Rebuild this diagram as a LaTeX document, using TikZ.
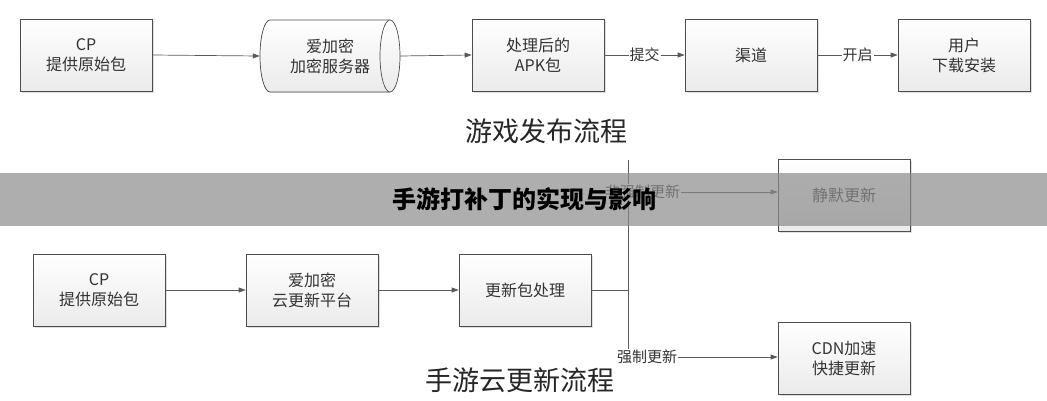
\documentclass[tikz,border=0pt]{standalone}
\usepackage{fontspec}
\setmainfont{Noto Sans CJK SC}
\usetikzlibrary{arrows.meta,shadows}
\begin{document}
\begin{tikzpicture}[x=1pt,y=-1pt,
  box/.style={draw=black!70,line width=0.7pt,top color=white,bottom color=black!8,minimum width=132pt,minimum height=72pt,align=center,font=\fontsize{16}{20}\selectfont,text=black!80,drop shadow={shadow xshift=1.5pt,shadow yshift=-1.5pt,opacity=0.25}},
  arr/.style={draw=black!65,line width=0.7pt,-{Triangle[length=7pt,width=5pt]}},
  lbl/.style={font=\fontsize{15}{18}\selectfont,text=black!80,fill=white,inner sep=1pt},
  ttl/.style={font=\fontsize{27}{32}\selectfont,text=black!85}]
\useasboundingbox (0,0) rectangle (1047,400);
% top row
\node[box] (cp1) at (86,55) {CP\\提供原始包};
\node[box] (apk) at (538,55) {处理后的\\APK包};
\node[box] (qd) at (751,55) {渠道};
\node[box] (user) at (964,55) {用户\\下载安装};
% cylinder
\fill[top color=white,bottom color=black!8] (270,20) -- (390,20) -- (390,92) -- (270,92) arc[start angle=90,end angle=270,x radius=10,y radius=36] -- cycle;
\draw[black!70,line width=0.7pt] (270,20) -- (390,20) (270,92) -- (390,92)
  (270,92) arc[start angle=90,end angle=270,x radius=10,y radius=36];
\draw[black!70,line width=0.7pt,top color=white,bottom color=black!8] (390,56) ellipse[x radius=10,y radius=36];
\node[minimum width=140pt,minimum height=72pt,align=center,font=\fontsize{16}{20}\selectfont,text=black!80] (enc) at (330,56) {爱加密\\加密服务器};
\node[inner sep=0pt] (encr) at (400,56) {};
\draw[arr] (cp1.east) -- (enc.west);
\draw[arr] (encr.center) -- (apk.west);
\draw[arr] (apk.east) -- node[lbl]{提交} (qd.west);
\draw[arr] (qd.east) -- node[lbl]{开启} (user.west);
\node[ttl] (t1) at (546,131) {游戏发布流程};
% bottom
\node[box] (cp2) at (99,290) {CP\\提供原始包};
\node[box] (yun) at (312,290) {爱加密\\云更新平台};
\node[box] (pkg) at (525,290) {更新包处理};
\node[box] (silent) at (844,195) {静默更新};
\node[box] (cdn) at (844,358) {CDN加速\\快捷更新};
\coordinate (j) at (628,290);
\coordinate (jt) at (628,160);
\coordinate (jb) at (628,357);
\draw[arr] (cp2.east) -- (yun.west);
\draw[arr] (yun.east) -- (pkg.west);
\draw[black!65,line width=0.7pt] (pkg.east) -- (j) (jt) -- (jb);
\node[lbl,anchor=west] (l1) at (604,192) {非强制更新};
\node[lbl,anchor=west] (l2) at (616,357) {强制更新};
\draw[arr] (l1.east) -- (silent.west|-l1.east);
\draw[arr] (l2.east) -- (cdn.west|-l2.east);
\node[ttl] (t2) at (520,380) {手游云更新流程};
% banner
\fill[black!45,opacity=0.7] (0,173) rectangle (1047,226);
\node[font=\fontsize{24}{28}\selectfont\bfseries,text=black] (ban) at (524,199) {手游打补丁的实现与影响};
\end{tikzpicture}
\end{document}
